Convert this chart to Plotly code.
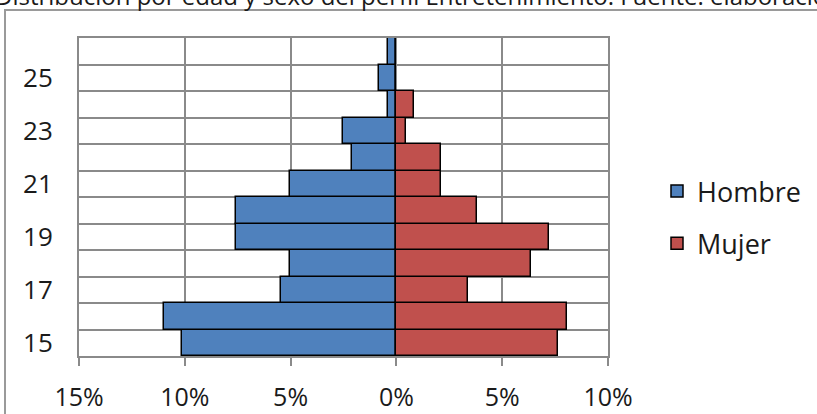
import plotly.graph_objects as go

ages = [15, 16, 17, 18, 19, 20, 21, 22, 23, 24, 25, 26]
hombre = [10.13, 10.96, 5.47, 5.05, 7.57, 7.57, 5.05, 2.08, 2.52, 0.39, 0.82, 0.39]
mujer = [7.64, 8.05, 3.39, 6.36, 7.21, 3.82, 2.11, 2.11, 0.43, 0.85, 0.0, 0.0]
x_ticks = [-15, -10, -5, 0, 5, 10]
x_labels = ["15%", "10%", "5%", "0%", "5%", "10%"]
y_ticks = [15, 17, 19, 21, 23, 25]
title_text = "Distribución por edad y sexo del perfil Entretenimiento. Fuente: elaboración propia"

FONT = "Open Sans"
GRID = "#8a8a8a"

fig = go.Figure()
fig.add_trace(go.Bar(
    y=ages, x=[-v for v in hombre], orientation="h", name="Hombre",
    marker=dict(color="#4F81BD", line=dict(color="black", width=1.5)),
    width=1, legendgroup="h",
))
fig.add_trace(go.Bar(
    y=ages, x=mujer, orientation="h", name="Mujer",
    marker=dict(color="#C0504D", line=dict(color="black", width=1.5)),
    width=1, legendgroup="m",
))

L, R, T, B = 79, 817 - 608, 38, 414 - 356
PW, PH = 817 - L - R, 414 - T - B

fig.update_layout(
    width=817, height=414,
    margin=dict(l=L, r=R, t=T, b=B, pad=0, autoexpand=False),
    barmode="overlay", bargap=0,
    paper_bgcolor="white", plot_bgcolor="white",
    font=dict(family=FONT, size=25, color="#1a1a1a"),
    showlegend=True,
    legend=dict(
        x=(657 - L) / PW, y=(356 - 167) / PH, xanchor="left", yanchor="top",
        font=dict(family=FONT, size=27, color="#1a1a1a"),
        tracegroupgap=14, itemwidth=30, bgcolor="rgba(0,0,0,0)",
    ),
)
fig.update_xaxes(
    range=[-15, 10], tickvals=x_ticks, ticktext=x_labels,
    showgrid=True, gridcolor=GRID, gridwidth=2,
    showline=True, linecolor=GRID, linewidth=2, mirror=True,
    ticks="outside", ticklen=8, tickwidth=2, tickcolor=GRID,
    zeroline=True, zerolinecolor=GRID, zerolinewidth=2,
    ticklabelstandoff=10,
)
fig.update_yaxes(
    range=[14.5, 26.5], tickvals=y_ticks, ticktext=[str(v) for v in y_ticks],
    tickfont=dict(family=FONT, size=26, color="#1a1a1a"),
    showgrid=False,
    minor=dict(tick0=14.5, dtick=1, showgrid=True, gridcolor=GRID, gridwidth=2, ticks=""),
    showline=True, linecolor=GRID, linewidth=2, mirror=True,
    ticks="", ticklabelstandoff=19, zeroline=False,
)

# outer chart frame (extends beyond the visible window)
fig.add_shape(
    type="rect", xref="paper", yref="paper",
    x0=(5 - L) / PW, x1=(830 - L) / PW, y0=(356 - 430) / PH, y1=(356 - 10) / PH,
    line=dict(color="#9a9a9a", width=2), fillcolor="rgba(0,0,0,0)", layer="below",
)

fig.add_annotation(
    text=title_text, xref="paper", yref="paper",
    x=(-7 - L) / PW, y=(356 - 14) / PH, xanchor="left", yanchor="bottom",
    showarrow=False, font=dict(family=FONT, size=24, color="#1a1a1a"),
)

fig.write_html(
    "out.html",
    config={"displayModeBar": False},
    post_script="document.body.style.margin='0';document.body.style.overflow='hidden';",
)
